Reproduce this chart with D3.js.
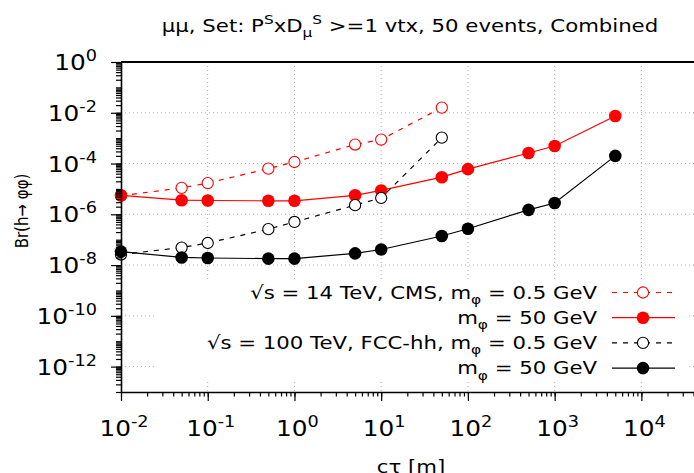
<!DOCTYPE html>
<html>
<head>
<meta charset="utf-8">
<script src="https://cdn.jsdelivr.net/npm/d3@7"></script>
<style>
  body { margin: 0; background: #fff; }
  text { font-family: "DejaVu Sans", sans-serif; fill: #000; }
</style>
</head>
<body>
<svg id="chart" width="694" height="473"></svg>
<script>
// c*tau values [m]
var ctValues = [0.01, 0.05, 0.1, 0.5, 1, 5, 10, 50, 100, 500, 1000, 5000];
// Br(h -> phi phi) limits
var cms05 = [5.4e-6, 1.1e-5, 1.7e-5, 6.3e-5, 1.15e-4, 5.6e-4, 8.8e-4, 1.6e-2];
var cms50 = [5.6e-6, 3.6e-6, 3.5e-6, 3.4e-6, 3.4e-6, 5.6e-6, 8.7e-6, 2.9e-5, 6.0e-5, 2.6e-4, 4.9e-4, 7.5e-3];
var fcc05 = [2.6e-8, 4.9e-8, 7.4e-8, 2.6e-7, 5.0e-7, 2.3e-6, 4.4e-6, 1.05e-3];
var fcc50 = [3.4e-8, 2.0e-8, 1.9e-8, 1.8e-8, 1.8e-8, 2.9e-8, 4.1e-8, 1.4e-7, 2.7e-7, 1.5e-6, 2.8e-6, 2.0e-4];

var xTickExps = [-2, -1, 0, 1, 2, 3, 4];
var yTickExps = [0, -2, -4, -6, -8, -10, -12];

var series = [
  { values: cms05, color: "#ff0000", dashed: true, open: true,
    label: [["√s = 14 TeV, CMS, m", "n"], ["φ", "sub"], [" = 0.5 GeV", "n"]] },
  { values: cms50, color: "#ff0000", dashed: false, open: false,
    label: [["m", "n"], ["φ", "sub"], [" = 50 GeV", "n"]] },
  { values: fcc05, color: "#000000", dashed: true, open: true,
    label: [["√s = 100 TeV, FCC-hh, m", "n"], ["φ", "sub"], [" = 0.5 GeV", "n"]] },
  { values: fcc50, color: "#000000", dashed: false, open: false,
    label: [["m", "n"], ["φ", "sub"], [" = 50 GeV", "n"]] }
];

var svg = d3.select("#chart");
var plotL = 121, plotT = 62, plotB = 392, plotR = 702;
var stretch = 1.18; // the reference lettering is wider than DejaVu

var x = d3.scaleLog().domain([1e-2, 5e4]).range([plotL, plotR]);
var y = d3.scaleLog().domain([1e-13, 1]).range([plotB, plotT]);

// text with super/subscripts, placed at (px,py) and stretched sideways
function rich(px, py, anchor, parts, size) {
  var t = svg.append("text")
    .attr("transform", "translate(" + px + "," + py + ")scale(" + stretch + ",1)")
    .attr("text-anchor", anchor);
  var small = Math.round(size * 0.72);
  var shift = 0;
  parts.forEach(function (p) {
    var target = 0;
    if (p[1] == "sup") target = -size * 0.42;
    if (p[1] == "sub") target = size * 0.3;
    t.append("tspan").text(p[0])
      .attr("dy", target - shift)
      .style("font-size", (p[1] == "n" ? size : small) + "px");
    shift = target;
  });
  return t;
}

// grid
function gridStyle(s) {
  s.attr("stroke", "#b0b0b0").attr("stroke-width", 1).attr("stroke-dasharray", "1,3");
}
svg.append("g").selectAll("line")
  .data(xTickExps.slice(1))
  .enter().append("line")
  .attr("x1", function (d) { return x(Math.pow(10, d)); })
  .attr("x2", function (d) { return x(Math.pow(10, d)); })
  .attr("y1", plotT).attr("y2", plotB)
  .call(gridStyle);
svg.append("g").selectAll("line")
  .data(yTickExps.slice(1))
  .enter().append("line")
  .attr("x1", plotL).attr("x2", plotR)
  .attr("y1", function (d) { return y(Math.pow(10, d)); })
  .attr("y2", function (d) { return y(Math.pow(10, d)); })
  .call(gridStyle);

// legend box (hides grid)
svg.append("rect")
  .attr("x", 157).attr("y", 279).attr("width", 530).attr("height", 102)
  .attr("fill", "#fff");

// lines + markers
series.forEach(function (s) {
  var pts = s.values.map(function (v, i) { return [ctValues[i], v]; });
  var line = d3.line()
    .x(function (d) { return x(d[0]); })
    .y(function (d) { return y(d[1]); });
  svg.append("path")
    .attr("d", line(pts))
    .attr("fill", "none")
    .attr("stroke", s.color)
    .attr("stroke-width", 1.2)
    .attr("stroke-dasharray", s.dashed ? "5,6" : null);
  svg.append("g").selectAll("circle")
    .data(pts)
    .enter().append("circle")
    .attr("cx", function (d) { return x(d[0]); })
    .attr("cy", function (d) { return y(d[1]); })
    .attr("r", s.open ? 5.6 : 6.3)
    .attr("fill", s.open ? "#fff" : s.color)
    .attr("stroke", s.color)
    .attr("stroke-width", s.open ? 1.1 : 0);
});

// legend
series.forEach(function (s, i) {
  var ly = 292.5 + i * 25.2;
  rich(597, ly + 6, "end", s.label, 18);
  svg.append("line")
    .attr("x1", 612).attr("x2", 675).attr("y1", ly).attr("y2", ly)
    .attr("stroke", s.color).attr("stroke-width", 1.2)
    .attr("stroke-dasharray", s.dashed ? "5,6" : null);
  svg.append("circle")
    .attr("cx", 643).attr("cy", ly)
    .attr("r", s.open ? 5.6 : 6.3)
    .attr("fill", s.open ? "#fff" : s.color)
    .attr("stroke", s.color)
    .attr("stroke-width", s.open ? 1.1 : 0);
});

// axes
var xMinor = [], yMinor = [];
for (var e = -2; e <= 4; e++) for (var n = 1; n <= 9; n++) xMinor.push(n * Math.pow(10, e));
for (var e2 = -13; e2 < 0; e2++) for (var m = 1; m <= 9; m++) yMinor.push(m * Math.pow(10, e2));

svg.append("g")
  .attr("transform", "translate(0," + plotB + ")")
  .call(d3.axisBottom(x).tickValues(xMinor).tickSize(4.5).tickFormat("").tickSizeOuter(0))
  .call(function (g) { g.select(".domain").remove(); });
svg.append("g")
  .attr("transform", "translate(0," + plotB + ")")
  .call(d3.axisBottom(x).tickValues(xTickExps.map(function (d) { return Math.pow(10, d); }))
    .tickSize(9).tickFormat("").tickSizeOuter(0))
  .call(function (g) { g.select(".domain").attr("stroke-width", 1.6); });

svg.append("g")
  .attr("transform", "translate(" + plotL + ",0)")
  .call(d3.axisLeft(y).tickValues(yMinor).tickSize(5).tickFormat("").tickSizeOuter(0))
  .call(function (g) { g.select(".domain").remove(); });
svg.append("g")
  .attr("transform", "translate(" + plotL + ",0)")
  .call(d3.axisLeft(y).tickValues(yTickExps.map(function (d) { return Math.pow(10, d); }))
    .tickSize(10).tickFormat("").tickSizeOuter(0))
  .call(function (g) { g.select(".domain").attr("stroke-width", 1.6); });
svg.selectAll(".tick line").attr("stroke-width", 1.2);

// top border
svg.append("line")
  .attr("x1", plotL).attr("x2", plotR).attr("y1", plotT).attr("y2", plotT)
  .attr("stroke", "#000").attr("stroke-width", 2);

// tick labels
xTickExps.forEach(function (d) {
  rich(x(Math.pow(10, d)) + 3, 436, "middle", [["10", "n"], [String(d), "sup"]], 21);
});
yTickExps.forEach(function (d) {
  rich(97, y(Math.pow(10, d)) + 8, "end", [["10", "n"], [String(d), "sup"]], 21);
});

// axis titles
rich(411, 473, "middle", [["cτ [m]", "n"]], 18);
svg.append("text")
  .attr("text-anchor", "middle")
  .attr("transform", "translate(28,211)rotate(-90)scale(1," + stretch + ")")
  .style("font-size", "15px")
  .text("Br(h→ φφ)");

// title
rich(410, 32, "middle",
  [["μμ, Set: P", "n"], ["S", "sup"], ["xD", "n"], ["μ", "sub"], ["S", "sup"],
   [" >=1 vtx, 50 events, Combined", "n"]], 18);
</script>
</body>
</html>
